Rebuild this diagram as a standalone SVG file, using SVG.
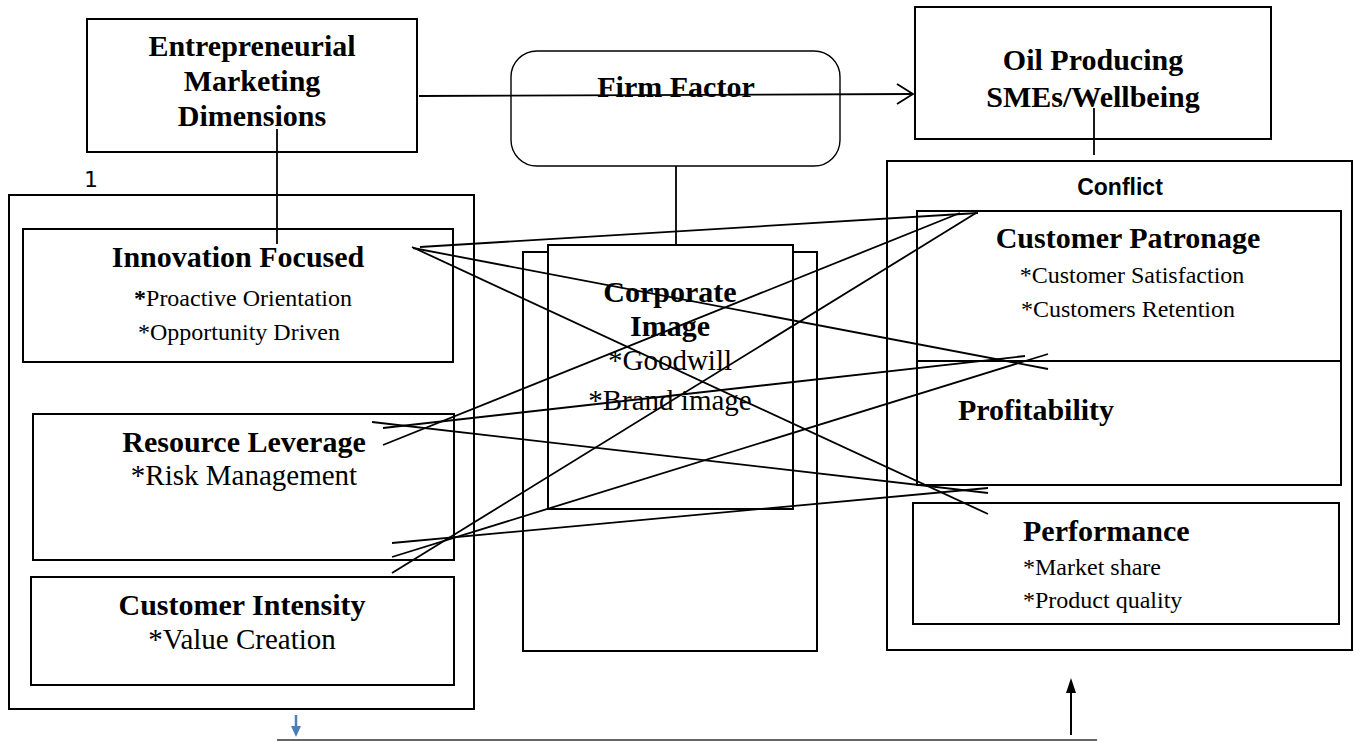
<svg xmlns="http://www.w3.org/2000/svg" width="1354" height="741" viewBox="0 0 1354 741">
<defs>
<style>
.box{fill:#fff;stroke:#000;stroke-width:2}
.frame{fill:none;stroke:#000;stroke-width:2}
.h{font-family:"Liberation Serif","Times New Roman",serif;font-weight:bold;font-size:30px;fill:#000}
.b{font-family:"Liberation Serif","Times New Roman",serif;font-size:29px;fill:#000}
.s{font-family:"Liberation Serif","Times New Roman",serif;font-size:24px;fill:#000}
.c{text-anchor:middle}
.ln{stroke:#000;stroke-width:1.8;fill:none}
</style>
</defs>
<rect width="1354" height="741" fill="#fff"/>

<g id="em-dimensions">
<rect class="box" x="87" y="19" width="330" height="133"/>
<text class="h c" x="252" y="56">Entrepreneurial</text>
<text class="h c" x="252" y="91">Marketing</text>
<text class="h c" x="252" y="126">Dimensions</text>
</g>

<g id="firm-factor">
<rect x="511" y="51" width="329" height="115" rx="26" ry="26" fill="#fff" stroke="#000" stroke-width="1.4"/>
<text class="h c" x="676" y="97">Firm Factor</text>
</g>

<g id="oil-smes">
<rect class="box" x="915" y="7" width="356" height="132"/>
<text class="h c" x="1093" y="70">Oil Producing</text>
<text class="h c" x="1093" y="107">SMEs/Wellbeing</text>
</g>

<g id="left-panel">
<text x="84" y="187" font-family="DejaVu Sans, sans-serif" font-size="22" fill="#000">1</text>
<rect class="frame" x="9" y="195" width="465" height="514"/>
</g>

<g id="innovation-focused">
<rect class="frame" x="23" y="229" width="430" height="133"/>
<text class="h c" x="238" y="267">Innovation Focused</text>
<text class="s c" x="243" y="306"><tspan font-weight="bold">*</tspan>Proactive Orientation</text>
<text class="s c" x="239" y="340">*Opportunity Driven</text>
</g>

<g id="resource-leverage">
<rect class="frame" x="33" y="414" width="421" height="146"/>
<text class="h c" x="244" y="452">Resource Leverage</text>
<text class="b c" x="244" y="485">*Risk Management</text>
</g>

<g id="customer-intensity">
<rect class="frame" x="31" y="577" width="423" height="108"/>
<text class="h c" x="242" y="615">Customer Intensity</text>
<text class="b c" x="242" y="649">*Value Creation</text>
</g>

<g id="corporate-image">
<rect class="box" x="523" y="252" width="294" height="399"/>
<rect class="box" x="548" y="245" width="245" height="264"/>
<text class="h c" x="670" y="302">Corporate</text>
<text class="h c" x="670" y="336">Image</text>
<text class="b c" x="670" y="370">*Goodwill</text>
<text class="b c" x="670" y="410">*Brand image</text>
</g>

<g id="conflict">
<rect class="frame" x="887" y="161" width="465" height="489"/>
<text x="1120" y="195" text-anchor="middle" font-family="Liberation Sans, Arial, sans-serif" font-weight="bold" font-size="23" fill="#000">Conflict</text>
</g>

<g id="customer-patronage">
<rect class="frame" x="917" y="211" width="424" height="150"/>
<text class="h c" x="1128" y="248">Customer Patronage</text>
<text class="s c" x="1132" y="283">*Customer Satisfaction</text>
<text class="s c" x="1128" y="317">*Customers Retention</text>
</g>

<g id="profitability">
<rect class="frame" x="917" y="361" width="424" height="124"/>
<text class="h" x="958" y="420">Profitability</text>
</g>

<g id="performance">
<rect class="frame" x="913" y="503" width="426" height="121"/>
<text class="h" x="1023" y="541">Performance</text>
<text class="s" x="1023" y="575">*Market share</text>
<text class="s" x="1023" y="608">*Product quality</text>
</g>

<g id="connectors">
<line class="ln" x1="419" y1="96" x2="913" y2="94"/>
<polyline class="ln" points="897,84 913,94 897,104"/>
<line class="ln" x1="277" y1="129" x2="277" y2="244"/>
<line class="ln" x1="676" y1="166" x2="676" y2="245"/>
<line class="ln" x1="1094" y1="108" x2="1094" y2="155" stroke-width="1.4"/>

<line class="ln" x1="420" y1="247" x2="978" y2="213"/>
<line class="ln" x1="413" y1="248" x2="1048" y2="369"/>
<line class="ln" x1="412" y1="247" x2="988" y2="514"/>
<line class="ln" x1="372" y1="422" x2="988" y2="493"/>
<line class="ln" x1="383" y1="428" x2="1025" y2="356"/>
<line class="ln" x1="383" y1="445" x2="960" y2="213"/>
<line class="ln" x1="392" y1="543" x2="988" y2="488"/>
<line class="ln" x1="392" y1="557" x2="1048" y2="354"/>
<line class="ln" x1="392" y1="573" x2="976" y2="213"/>

<line x1="277" y1="740" x2="1097" y2="740" stroke="#333" stroke-width="1.5"/>
<line x1="1071" y1="735" x2="1071" y2="690" stroke="#000" stroke-width="2"/>
<polygon points="1071,678 1066,693 1076,693" fill="#000"/>
<line x1="296" y1="715" x2="296" y2="727" stroke="#4a7ebb" stroke-width="2.5"/>
<polygon points="291,726 301,726 296,737" fill="#4a7ebb"/>
</g>
</svg>
